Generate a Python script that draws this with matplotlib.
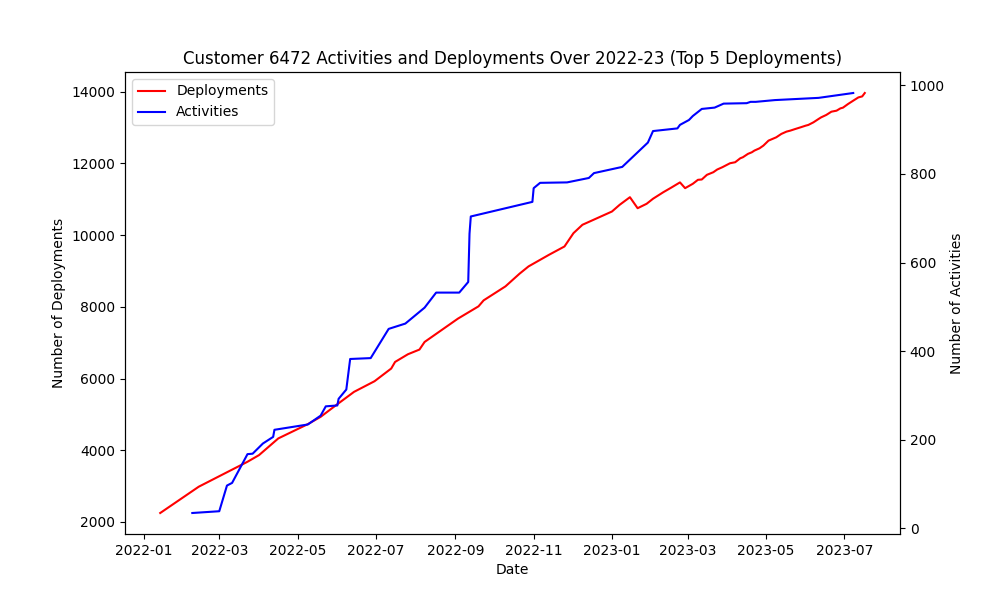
import matplotlib
matplotlib.use('Agg')
from matplotlib import pyplot as plt
import pandas as pd

dep_dates = ['2022-01-14', '2022-02-13', '2022-03-23', '2022-04-01', '2022-04-16',
             '2022-05-09', '2022-05-19', '2022-05-31', '2022-06-14', '2022-06-30',
             '2022-07-13', '2022-07-16', '2022-07-26', '2022-08-04', '2022-08-08',
             '2022-09-03', '2022-09-19', '2022-09-23', '2022-10-10', '2022-10-21',
             '2022-10-28', '2022-11-13', '2022-11-25', '2022-12-02', '2022-12-09',
             '2023-01-01', '2023-01-07', '2023-01-15', '2023-01-21', '2023-01-28',
             '2023-02-02', '2023-02-10', '2023-02-16', '2023-02-23', '2023-02-27',
             '2023-03-05', '2023-03-09', '2023-03-12', '2023-03-16', '2023-03-21',
             '2023-03-24', '2023-03-28', '2023-04-03', '2023-04-07', '2023-04-11',
             '2023-04-13', '2023-04-17', '2023-04-20', '2023-04-22', '2023-04-26',
             '2023-04-29', '2023-05-03', '2023-05-09', '2023-05-13', '2023-05-17',
             '2023-05-20', '2023-05-24', '2023-05-28', '2023-06-01', '2023-06-03',
             '2023-06-07', '2023-06-11', '2023-06-13', '2023-06-17', '2023-06-21',
             '2023-06-25', '2023-06-28', '2023-06-30', '2023-07-04', '2023-07-08',
             '2023-07-12', '2023-07-15', '2023-07-17']
deployments = [2250, 2983, 3679, 3865, 4330,
               4728, 4932, 5257, 5628, 5925,
               6279, 6463, 6677, 6808, 7020,
               7671, 8013, 8180, 8570, 8924,
               9127, 9452, 9683, 10054, 10288,
               10658, 10845, 11057, 10750, 10873,
               11014, 11196, 11320, 11470, 11309,
               11431, 11542, 11551, 11681, 11754,
               11829, 11893, 12004, 12032, 12143,
               12171, 12266, 12310, 12357, 12421,
               12496, 12635, 12727, 12822, 12886,
               12914, 12961, 13006, 13053, 13072,
               13145, 13239, 13284, 13351, 13442,
               13470, 13534, 13554, 13657, 13749,
               13840, 13868, 13963]

act_dates = ['2022-02-08', '2022-03-01', '2022-03-07', '2022-03-11', '2022-03-23',
             '2022-03-27', '2022-04-04', '2022-04-12', '2022-04-13', '2022-05-09',
             '2022-05-19', '2022-05-23', '2022-06-01', '2022-06-02', '2022-06-08',
             '2022-06-11', '2022-06-27', '2022-07-11', '2022-07-24', '2022-08-08',
             '2022-08-17', '2022-09-04', '2022-09-11', '2022-09-12', '2022-09-13',
             '2022-10-31', '2022-11-01', '2022-11-06', '2022-11-27', '2022-12-14',
             '2022-12-18', '2023-01-09', '2023-01-29', '2023-02-02', '2023-02-21',
             '2023-02-23', '2023-03-02', '2023-03-05', '2023-03-12', '2023-03-22',
             '2023-03-29', '2023-04-16', '2023-04-19', '2023-04-23', '2023-05-08',
             '2023-06-11', '2023-07-08']
activities = [34, 38, 96, 102, 167,
              168, 191, 206, 222, 234,
              254, 275, 277, 292, 313,
              382, 384, 450, 462, 498,
              532, 532, 556, 665, 704,
              737, 768, 780, 781, 791,
              802, 816, 871, 897, 903,
              911, 922, 931, 947, 950,
              959, 960, 963, 963, 967,
              972, 983]

fig, ax1 = plt.subplots(figsize=(10, 6), dpi=100)
l1, = ax1.plot(pd.to_datetime(dep_dates), deployments, color='red', label='Deployments')
ax1.set_xlabel('Date')
ax1.set_ylabel('Number of Deployments')

ax2 = ax1.twinx()
l2, = ax2.plot(pd.to_datetime(act_dates), activities, color='blue', label='Activities')
ax2.set_ylabel('Number of Activities')

ax1.legend(handles=[l1, l2], loc='upper left')
ax1.set_title('Customer 6472 Activities and Deployments Over 2022-23 (Top 5 Deployments)')

fig.savefig('out.png')
